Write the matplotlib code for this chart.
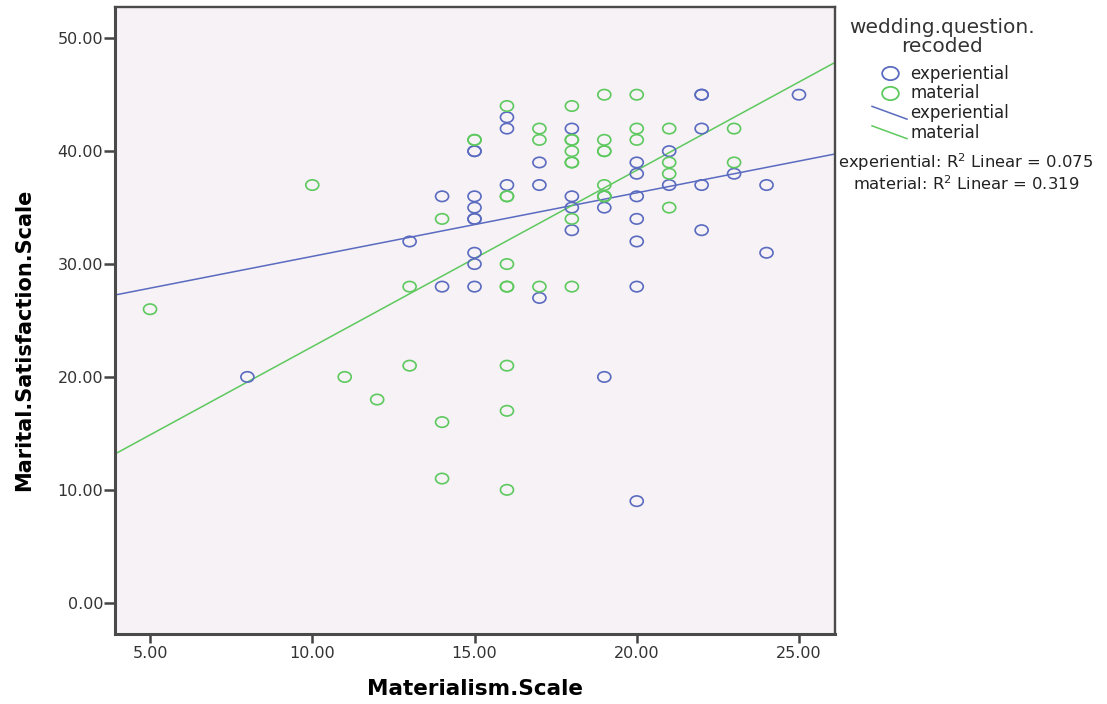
import numpy as np
import matplotlib
matplotlib.use("Agg")
import matplotlib.pyplot as plt
from matplotlib.path import Path
from matplotlib.transforms import Affine2D
from matplotlib.lines import Line2D
from matplotlib.legend_handler import HandlerBase

# scatter data
exp_x = [8, 13, 14, 14, 15, 15, 15, 15, 15, 15, 15, 15, 15, 16, 16, 16, 17, 17, 17,
         18, 18, 18, 18, 19, 19, 19, 20, 20, 20, 20, 20, 20, 20, 21, 21,
         22, 22, 22, 22, 22, 23, 24, 24, 25]
exp_y = [20, 32, 36, 28, 40, 40, 36, 35, 34, 34, 31, 30, 28, 43, 42, 37, 39, 37, 27,
         42, 36, 35, 33, 36, 35, 20, 39, 38, 36, 34, 32, 28, 9, 40, 37,
         45, 45, 42, 37, 33, 38, 37, 31, 45]

mat_x = [5, 10, 11, 12, 13, 13, 14, 14, 14, 15, 15, 16, 16, 16, 16, 16, 16, 16, 16, 16,
         17, 17, 17, 18, 18, 18, 18, 18, 18, 18, 18, 19, 19, 19, 19, 19, 19, 19,
         20, 20, 20, 21, 21, 21, 21, 23, 23]
mat_y = [26, 37, 20, 18, 28, 21, 34, 16, 11, 41, 41, 44, 36, 36, 30, 28, 28, 21, 17, 10,
         42, 41, 28, 44, 41, 41, 40, 39, 39, 34, 28, 45, 41, 40, 40, 37, 36, 36,
         45, 42, 41, 42, 39, 38, 35, 42, 39]

# fit lines (intercept, slope)
exp_fit = [25.05, 0.563]
mat_fit = [7.05, 1.563]
groups = ["experiential", "material"]
r2_labels = ["experiential: R$^2$ Linear = 0.075", "material: R$^2$ Linear = 0.319"]
xticks = [5, 10, 15, 20, 25]
yticks = [0, 10, 20, 30, 40, 50]

blue = "#5a6bc0"
green = "#5ec95e"

plt.rcParams['font.family'] = ['DejaVu Sans']
plt.rcParams['mathtext.fontset'] = 'dejavusans'


class DiagLine(HandlerBase):
    # SPSS draws the line key as a short slanted stroke
    def create_artists(self, legend, orig_handle, xdescent, ydescent, width, height, fontsize, trans):
        ln = Line2D([-xdescent, -xdescent + width], [-ydescent + height * 1.0, -ydescent - height * 0.1],
                    color=orig_handle.get_color(), lw=orig_handle.get_linewidth(), transform=trans)
        return [ln]


fig = plt.figure(figsize=(11.07, 7.04), dpi=100)
ax = fig.add_axes([115/1107, 1-634/704, 720/1107, 627/704])
ax.set_facecolor("#f6f2f6")

ell = Path.unit_circle().transformed(Affine2D().scale(1.25, 1.0))

ax.scatter(exp_x, exp_y, marker=ell, s=88, facecolors="none", edgecolors=blue, linewidths=1.2, zorder=3)
ax.scatter(mat_x, mat_y, marker=ell, s=88, facecolors="none", edgecolors=green, linewidths=1.2, zorder=3)

ax.set_xlim(3.92, 26.11)
ax.set_ylim(-2.77, 52.77)
xs = np.array(ax.get_xlim())
ax.plot(xs, exp_fit[0] + exp_fit[1]*xs, color=blue, lw=1.1, zorder=2)
ax.plot(xs, mat_fit[0] + mat_fit[1]*xs, color=green, lw=1.1, zorder=2)

ax.set_xticks(xticks)
ax.set_yticks(yticks)
ax.set_xticklabels(["%.2f" % v for v in xticks])
ax.set_yticklabels(["%.2f" % v for v in yticks])
ax.tick_params(axis="y", direction="out", length=8, width=1.8, color="#444444", pad=0.5,
               labelsize=11.5, labelcolor="#333333")
ax.tick_params(axis="x", direction="out", length=6.5, width=1.8, color="#444444", pad=2,
               labelsize=11.5, labelcolor="#333333")
for name, s in ax.spines.items():
    s.set_color("#4a4a4a")
    s.set_linewidth(2.2 if name in ("left", "bottom") else 1.7)

ax.set_xlabel("Materialism.Scale", fontsize=15.5, fontweight="bold")
ax.xaxis.set_label_coords(0.5, -0.0718)
ax.set_ylabel("Marital.Satisfaction.Scale", fontsize=15, fontweight="bold")
ax.yaxis.set_label_coords(-0.112, 0.469)

handles = [
    Line2D([], [], ls="none", marker=ell, markersize=12, markerfacecolor="none", markeredgecolor=blue, mew=1.3),
    Line2D([], [], ls="none", marker=ell, markersize=12, markerfacecolor="none", markeredgecolor=green, mew=1.3),
    Line2D([], [], color=blue, lw=1.1),
    Line2D([], [], color=green, lw=1.1),
]
leg = fig.legend(handles, groups + groups, loc="upper left",
                 bbox_to_anchor=(872/1107, 1-65/704), frameon=False, fontsize=12,
                 handlelength=2.1, handletextpad=0.2, labelspacing=0.09,
                 borderaxespad=0, borderpad=0,
                 handler_map={handles[2]: DiagLine(), handles[3]: DiagLine()})
for t in leg.get_texts():
    t.set_color("#222222")

fig.text(942/1107, 1-37/704, "wedding.question.\nrecoded", ha="center", va="center",
         fontsize=14.5, color="#333333", linespacing=1.0)
fig.text(966/1107, 1-172/704, "\n".join(r2_labels), ha="center", va="center",
         multialignment="center", fontsize=11.8, color="#222222", linespacing=1.05)

fig.savefig("out.png", dpi=100)
